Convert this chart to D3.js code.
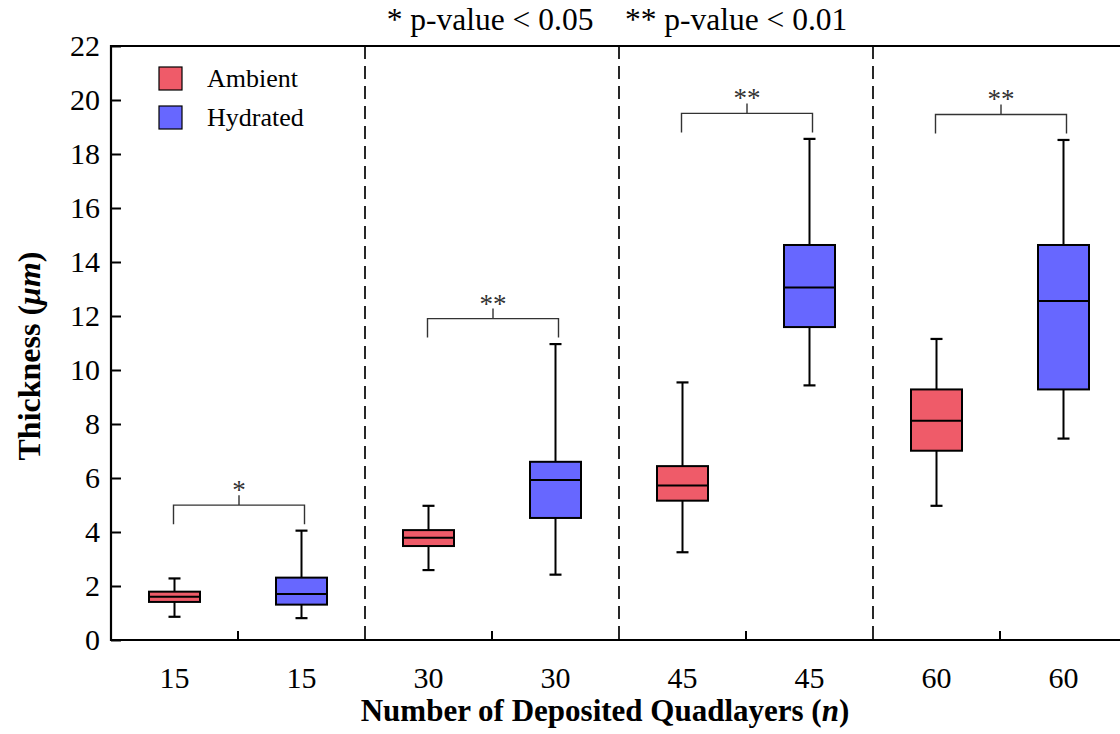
<!DOCTYPE html>
<html>

<head>
    <meta charset="UTF-8">
    <style>
        body { margin: 0; background: #fff; }
        text { font-family: "Liberation Serif", "Times New Roman", serif; }
    </style>
</head>

<body>
    <svg></svg>
    <script src="https://d3js.org/d3.v7.min.js"></script>

    <script>

        let width = 1120, height = 734;

        // data: [lower whisker, Q1, median, Q3, upper whisker]
        const layers = ["15", "30", "45", "60"];
        const conditions = ["Ambient", "Hydrated"];
        const ambientBox = [
            [0.86, 1.41, 1.60, 1.79, 2.28],
            [2.59, 3.48, 3.79, 4.07, 4.97],
            [3.25, 5.16, 5.72, 6.44, 9.54],
            [4.97, 7.01, 8.12, 9.28, 11.15]
        ];
        const hydratedBox = [
            [0.81, 1.31, 1.70, 2.31, 4.05],
            [2.42, 4.52, 5.93, 6.60, 10.96],
            [9.43, 11.59, 13.06, 14.63, 18.56],
            [7.46, 9.28, 12.56, 14.63, 18.52]
        ];
        const significance = ["*", "**", "**", "**"];
        const yTicks = [0, 2, 4, 6, 8, 10, 12, 14, 16, 18, 20, 22];
        const colors = ["#ef5b69", "#6767ff"];

        let svg = d3.select("svg")
            .attr("width", width)
            .attr("height", height)

        let pLeft = 111, pRight = 1127, pTop = 46, pBottom = 640;

        let x = d3.scaleBand().domain(layers).range([pLeft, pRight]);
        let xInner = d3.scaleBand().domain(conditions).range([0, x.bandwidth()]);
        let y = d3.scaleLinear().domain([0, 22]).range([pBottom, pTop]);

        let boxW = 51, capW = 12;

        // flatten into boxes
        let boxes = [];
        layers.forEach((l, i) => {
            [ambientBox[i], hydratedBox[i]].forEach((s, j) => {
                boxes.push({
                    layer: l, cond: conditions[j], color: colors[j],
                    cx: x(l) + xInner(conditions[j]) + xInner.bandwidth() / 2,
                    min: s[0], q1: s[1], med: s[2], q3: s[3], max: s[4]
                });
            });
        });

        // dashed dividers
        svg.append("g")
            .selectAll("line")
            .data(layers.slice(1))
            .enter()
            .append("line")
            .attr("x1", d => x(d)).attr("x2", d => x(d))
            .attr("y1", pTop).attr("y2", pBottom)
            .attr("stroke", "#111")
            .attr("stroke-width", 1.8)
            .attr("stroke-dasharray", "13,7");

        // y axis with inward ticks
        let yAxis = svg.append("g")
            .attr("transform", "translate(" + pLeft + ",0)")
            .call(d3.axisLeft(y).tickValues(yTicks).tickSize(-10).tickPadding(11));
        yAxis.select(".domain").remove();
        yAxis.selectAll("line").attr("stroke", "#000").attr("stroke-width", 2);
        yAxis.selectAll("text").attr("font-size", 30).attr("fill", "#000")
            .style("font-family", "Liberation Serif");

        // x labels
        svg.append("g")
            .selectAll("text")
            .data(boxes)
            .enter()
            .append("text")
            .attr("x", d => d.cx)
            .attr("y", 688)
            .attr("text-anchor", "middle")
            .attr("font-size", 30)
            .text(d => d.layer);

        // x ticks at group centers (inward)
        svg.append("g")
            .selectAll("line")
            .data(layers)
            .enter()
            .append("line")
            .attr("x1", d => x(d) + x.bandwidth() / 2).attr("x2", d => x(d) + x.bandwidth() / 2)
            .attr("y1", pBottom).attr("y2", pBottom - 9)
            .attr("stroke", "#000")
            .attr("stroke-width", 2);

        // frame
        svg.append("path")
            .attr("d", "M" + pRight + "," + pTop + "H" + pLeft + "V" + pBottom + "H" + pRight)
            .attr("fill", "none")
            .attr("stroke", "#000")
            .attr("stroke-width", 2.2);

        // boxes
        let g = svg.append("g").selectAll("g")
            .data(boxes)
            .enter()
            .append("g");

        g.append("line")
            .attr("x1", d => d.cx).attr("x2", d => d.cx)
            .attr("y1", d => y(d.max)).attr("y2", d => y(d.min))
            .attr("stroke", "#000").attr("stroke-width", 2);
        g.selectAll(".cap")
            .data(d => [d, d].map((b, k) => ({ cx: b.cx, v: k ? b.min : b.max })))
            .enter()
            .append("line")
            .attr("x1", d => d.cx - capW / 2).attr("x2", d => d.cx + capW / 2)
            .attr("y1", d => y(d.v)).attr("y2", d => y(d.v))
            .attr("stroke", "#000").attr("stroke-width", 2.2);
        g.append("rect")
            .attr("x", d => d.cx - boxW / 2)
            .attr("width", boxW)
            .attr("y", d => y(d.q3))
            .attr("height", d => y(d.q1) - y(d.q3))
            .attr("fill", d => d.color)
            .attr("stroke", "#000").attr("stroke-width", 2);
        g.append("line")
            .attr("x1", d => d.cx - boxW / 2).attr("x2", d => d.cx + boxW / 2)
            .attr("y1", d => y(d.med)).attr("y2", d => y(d.med))
            .attr("stroke", "#000").attr("stroke-width", 2);

        // significance brackets
        let br = svg.append("g").selectAll("g")
            .data(layers)
            .enter()
            .append("g");
        br.append("path")
            .attr("d", (l, i) => {
                let x1 = x(l) + xInner("Ambient") + xInner.bandwidth() / 2 - 1;
                let x2 = x(l) + xInner("Hydrated") + xInner.bandwidth() / 2 + 3;
                let yb = y(hydratedBox[i][4]) - 6.5;
                let yh = y(hydratedBox[i][4]) - 25.5;
                let xm = (x1 + x2) / 2;
                return "M" + x1 + "," + yb + "V" + yh + "H" + x2 + "V" + yb +
                    "M" + xm + "," + yh + "V" + (yh - 10);
            })
            .attr("fill", "none")
            .attr("stroke", "#333")
            .attr("stroke-width", 1.4);
        br.append("text")
            .attr("x", (l) => x(l) + x.bandwidth() / 2 + 1)
            .attr("y", (l, i) => y(hydratedBox[i][4]) - 25.5 - 6)
            .attr("text-anchor", "middle")
            .attr("font-size", 27)
            .attr("fill", "#333")
            .text((l, i) => significance[i]);

        // legend
        let legend = svg.append("g").selectAll("g")
            .data(conditions)
            .enter()
            .append("g")
            .attr("transform", (d, i) => "translate(159," + (67 + i * 39) + ")");
        legend.append("rect")
            .attr("width", 23).attr("height", 23)
            .attr("fill", (d, i) => colors[i])
            .attr("stroke", "#000").attr("stroke-width", 1.2);
        legend.append("text")
            .attr("x", 48).attr("y", 20)
            .attr("font-size", 26)
            .text(d => d);

        // top note
        svg.append("text")
            .attr("x", 617).attr("y", 30)
            .attr("text-anchor", "middle")
            .attr("font-size", 31.5)
            .attr("xml:space", "preserve")
            .text("* p-value < 0.05    ** p-value < 0.01");

        // axis titles
        let xt = svg.append("text")
            .attr("x", 605).attr("y", 721)
            .attr("text-anchor", "middle")
            .attr("font-size", 31)
            .attr("font-weight", "bold");
        xt.append("tspan").text("Number of Deposited Quadlayers (");
        xt.append("tspan").attr("font-style", "italic").text("n");
        xt.append("tspan").text(")");

        let yt = svg.append("text")
            .attr("transform", "translate(40,356) rotate(-90)")
            .attr("text-anchor", "middle")
            .attr("font-size", 32)
            .attr("font-weight", "bold");
        yt.append("tspan").text("Thickness (");
        yt.append("tspan").attr("font-style", "italic").text("μm");
        yt.append("tspan").text(")");

    </script>
</body>

</html>
